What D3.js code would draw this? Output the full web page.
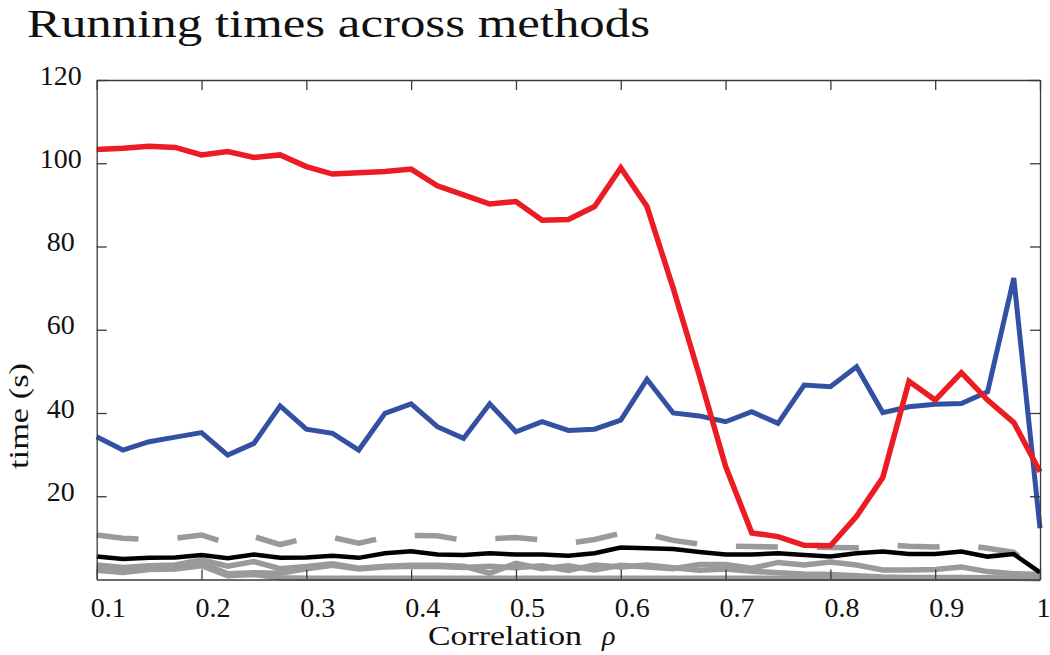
<!DOCTYPE html>
<html>
<head>
<meta charset="utf-8">
<script src="https://cdn.jsdelivr.net/npm/d3@7"></script>
<style>
  html, body { margin: 0; padding: 0; background: #fff; }
  text { font-family: 'Liberation Serif', 'Times New Roman', serif; fill: #111; }
</style>
</head>
<body>
<div id="chart"></div>
<script>
// correlation values on the x axis
const rho = [0.1, 0.125, 0.15, 0.175, 0.2, 0.225, 0.25, 0.275, 0.3, 0.325, 0.35, 0.375,
  0.4, 0.425, 0.45, 0.475, 0.5, 0.525, 0.55, 0.575, 0.6, 0.625, 0.65, 0.675, 0.7,
  0.725, 0.75, 0.775, 0.8, 0.825, 0.85, 0.875, 0.9, 0.925, 0.95, 0.975, 1.0];

// running times (s)
const redTimes = [103.3, 103.6, 104.1, 103.8, 102.0, 102.8, 101.4, 102.0, 99.2, 97.4, 97.7, 98.0,
  98.6, 94.6, 92.4, 90.2, 90.8, 86.3, 86.5, 89.6, 98.9, 89.6, 70.0, 49.0, 27.2,
  11.2, 10.3, 8.2, 8.1, 15.2, 24.5, 47.6, 43.1, 49.7, 43.1, 37.7, 25.9];
const blueTimes = [34.3, 31.1, 33.1, 34.2, 35.3, 29.9, 32.7, 41.7, 36.1, 35.1, 31.1, 39.9,
  42.2, 36.7, 33.9, 42.2, 35.5, 37.9, 35.8, 36.1, 38.3, 48.1, 40.0, 39.3, 37.9,
  40.3, 37.5, 46.7, 46.3, 51.1, 40.1, 41.5, 42.1, 42.3, 45.1, 72.4, 12.3];
const blackTimes = [5.5, 4.9, 5.2, 5.3, 5.9, 5.1, 6.0, 5.2, 5.3, 5.7, 5.2, 6.3,
  6.8, 6.0, 5.9, 6.3, 6.0, 6.0, 5.7, 6.3, 7.7, 7.5, 7.3, 6.6, 6.0,
  6.0, 6.3, 5.9, 5.5, 6.3, 6.7, 6.1, 6.1, 6.7, 5.5, 6.1, 1.7];
const dashedTimes = [10.7, 9.9, 9.6, 9.9, 10.7, 8.7, 10.3, 8.4, 9.9, 10.1, 8.7, 10.1,
  10.6, 10.5, 9.4, 9.8, 10.1, 9.5, 8.7, 9.6, 11.1, 10.9, 9.4, 8.5, 8.0,
  7.9, 7.8, 7.8, 7.7, 7.6, 8.4, 8.0, 7.8, 8.4, 7.5, 6.5, 1.7];
const grayTimesA = [3.5, 2.9, 3.3, 3.5, 4.7, 3.2, 4.3, 2.6, 3.1, 3.8, 2.7, 3.2,
  3.4, 3.4, 3.2, 1.5, 3.9, 2.6, 3.3, 2.3, 3.4, 3.0, 2.6, 3.6, 3.6,
  2.7, 4.1, 3.5, 4.2, 3.5, 2.3, 2.3, 2.4, 3.0, 1.9, 1.4, 1.2];
const grayTimesB = [2.8, 2.3, 2.8, 2.9, 3.9, 1.4, 1.6, 1.5, 2.6, 3.4, 2.5, 3.0,
  3.2, 3.1, 2.9, 3.2, 2.8, 3.3, 2.2, 3.5, 3.0, 3.5, 2.8, 2.2, 2.5,
  2.0, 1.6, 1.3, 1.2, 0.9, 0.6, 0.5, 0.5, 0.5, 0.4, 0.3, 0.2];
const grayTimesC = [2.2, 1.7, 2.4, 2.5, 3.3, 0.9, 1.2, 0.4, 0.3, 0.3, 0.3, 0.3,
  0.3, 0.3, 0.3, 0.3, 0.3, 0.3, 0.3, 0.3, 0.3, 0.3, 0.3, 0.3, 0.3,
  0.3, 0.3, 0.3, 0.3, 0.3, 0.3, 0.3, 0.3, 0.3, 0.3, 0.3, 0.3];

const xTicks = [0.1, 0.2, 0.3, 0.4, 0.5, 0.6, 0.7, 0.8, 0.9, 1];
const yTicks = [20, 40, 60, 80, 100, 120];

const margin = { t: 80, r: 10, b: 75.5, l: 96.7 };
const totalW = 1050;
const totalH = 655;
const W = totalW - margin.l - margin.r;
const H = totalH - margin.t - margin.b;

const scaleX = d3.scaleLinear().domain([0.1, 1]).range([0, W]);
const scaleY = d3.scaleLinear().domain([0, 120]).range([H, 0]);

const svg = d3.select('#chart').append('svg')
  .attr('width', totalW)
  .attr('height', totalH);

// title
svg.append('text')
  .attr('x', 27)
  .attr('y', 37)
  .attr('font-size', 41)
  .attr('textLength', 623)
  .attr('lengthAdjust', 'spacingAndGlyphs')
  .text('Running times across methods');

const g = svg.append('g')
  .attr('transform', `translate(${margin.l}, ${margin.t})`);

// series, drawn back to front
const series = [
  { values: grayTimesC, color: '#9a9a9a', width: 5.5 },
  { values: grayTimesB, color: '#9a9a9a', width: 5.5 },
  { values: grayTimesA, color: '#9a9a9a', width: 5.5 },
  { values: dashedTimes, color: '#9a9a9a', width: 5.5, dash: '42,39' },
  { values: blackTimes, color: '#000000', width: 4.5 },
  { values: blueTimes, color: '#3350a3', width: 5 },
  { values: redTimes, color: '#ec1c24', width: 5.5 }
];

const line = d3.line()
  .x((d, i) => scaleX(rho[i]))
  .y(d => scaleY(d));

g.selectAll('path.series')
  .data(series)
  .enter()
  .append('path')
  .attr('class', 'series')
  .attr('fill', 'none')
  .attr('stroke', d => d.color)
  .attr('stroke-width', d => d.width)
  .attr('stroke-linejoin', 'miter')
  .attr('stroke-dasharray', d => d.dash || null)
  .attr('d', d => line(d.values));

// axes box, ticks pointing inward
const axisColor = '#3a3a3a';

const xAxis = d3.axisBottom(scaleX)
  .tickValues(xTicks)
  .tickSizeInner(-10)
  .tickSizeOuter(0)
  .tickPadding(16)
  .tickFormat(d => d === 1 ? '1' : d3.format('.1f')(d));

const yAxis = d3.axisLeft(scaleY)
  .tickValues(yTicks)
  .tickSizeInner(-10)
  .tickSizeOuter(0)
  .tickFormat(d3.format('d'));

const gx = g.append('g')
  .attr('class', 'axis axis--x')
  .attr('transform', `translate(0, ${H})`)
  .call(xAxis);

gx.selectAll('text')
  .attr('font-size', 28)
  .attr('font-family', "'Liberation Serif', serif")
  .attr('fill', '#111')
  .attr('dy', null)
  .attr('y', 37)
  .attr('dx', d => d === 1 ? 3 : 11);

const gy = g.append('g')
  .attr('class', 'axis axis--y')
  .call(yAxis);

gy.selectAll('text')
  .attr('font-size', 28)
  .attr('font-family', "'Liberation Serif', serif")
  .attr('fill', '#111')
  .attr('text-anchor', 'middle')
  .attr('dy', null)
  .attr('x', -36)
  .attr('y', 4);

g.append('g')
  .attr('class', 'axis axis--top')
  .call(d3.axisTop(scaleX).tickValues(xTicks).tickSizeInner(-10).tickSizeOuter(0).tickFormat(''));

g.append('g')
  .attr('class', 'axis axis--right')
  .attr('transform', `translate(${W}, 0)`)
  .call(d3.axisRight(scaleY).tickValues(yTicks).tickSizeInner(-10).tickSizeOuter(0).tickFormat(''));

g.selectAll('.axis path, .axis line')
  .attr('stroke', axisColor)
  .attr('stroke-width', 1.3);

// axis titles
const xTitle = svg.append('text')
  .attr('y', 645)
  .attr('font-size', 28);
xTitle.append('tspan')
  .attr('x', 428)
  .attr('textLength', 154)
  .attr('lengthAdjust', 'spacingAndGlyphs')
  .text('Correlation');
xTitle.append('tspan')
  .attr('x', 602)
  .attr('font-style', 'italic')
  .text('ρ');

svg.append('text')
  .attr('transform', 'translate(28, 416) rotate(-90)')
  .attr('text-anchor', 'middle')
  .attr('font-size', 28)
  .attr('textLength', 106)
  .attr('lengthAdjust', 'spacingAndGlyphs')
  .text('time (s)');
</script>
</body>
</html>
